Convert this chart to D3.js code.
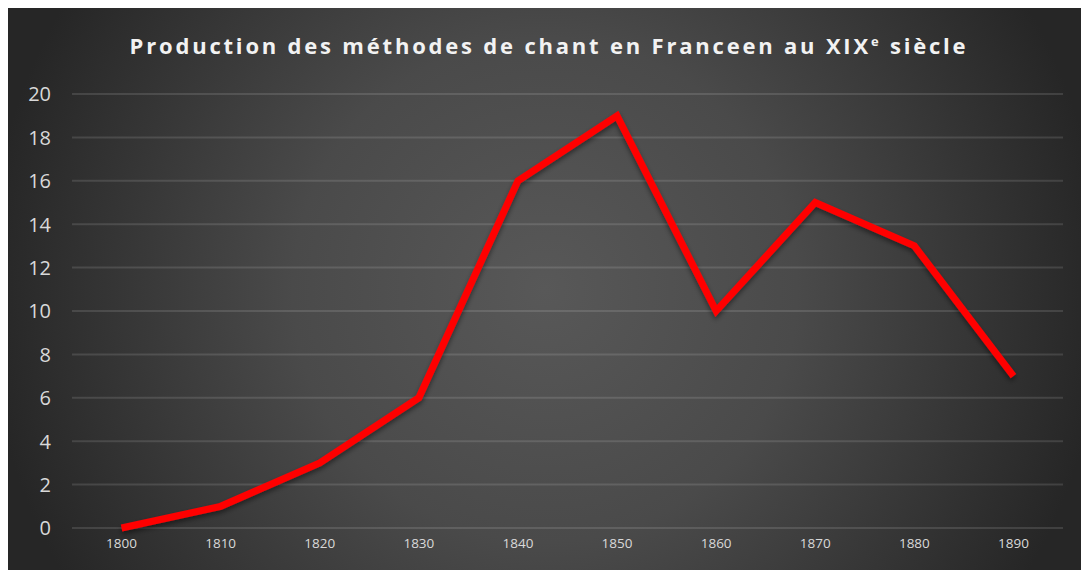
<!DOCTYPE html>
<html><head><meta charset="utf-8">
<script src="https://cdn.jsdelivr.net/npm/d3@7"></script>
<style>html,body{margin:0;padding:0;background:#fff;}svg{display:block;}</style>
</head><body>
<svg id="c" width="1081" height="570"></svg>
<script>
const categories = ["1800","1810","1820","1830","1840","1850","1860","1870","1880","1890"];
const values = [0, 1, 3, 6, 16, 19, 10, 15, 13, 7];
const yTicks = [0,2,4,6,8,10,12,14,16,18,20];
const title = "Production des méthodes de chant en Franceen au XIX";

const svg = d3.select("#c");
const W = 1081, H = 570;
const defs = svg.append("defs");
const rg = defs.append("radialGradient").attr("id","bg")
  .attr("gradientUnits","userSpaceOnUse").attr("cx",545).attr("cy",290).attr("r",560);
rg.append("stop").attr("offset","0").attr("stop-color","#585858");
rg.append("stop").attr("offset","0.45").attr("stop-color","#4a4a4a");
rg.append("stop").attr("offset","1").attr("stop-color","#262626");
const f = defs.append("filter").attr("id","sh").attr("x","-10%").attr("y","-10%").attr("width","120%").attr("height","130%");
f.append("feDropShadow").attr("dx",0).attr("dy",3).attr("stdDeviation",2.5).attr("flood-color","#000").attr("flood-opacity",0.45);

svg.append("rect").attr("x",8).attr("y",8).attr("width",W-8).attr("height",H-8).attr("fill","url(#bg)");

const x = d3.scaleBand().domain(categories).range([72,1063]);
const y = d3.scaleLinear().domain([0,20]).range([528,94]);

const grid = svg.append("g");
grid.selectAll("line").data(yTicks).enter().append("line")
  .attr("x1",72).attr("x2",1063)
  .attr("y1",d=>y(d)).attr("y2",d=>y(d))
  .attr("stroke","rgba(255,255,255,0.12)").attr("stroke-width",2);

const yAxis = d3.axisLeft(y).tickValues(yTicks).tickSize(0).tickPadding(0);
const gy = svg.append("g").attr("transform","translate(51,0)").call(yAxis);
gy.select(".domain").remove();
gy.selectAll("text").attr("fill","#d9d9d9").attr("font-family","'Open Sans', Lato, sans-serif")
  .attr("font-size","20px").attr("dy","0.34em");

const xAxis = d3.axisBottom(x).tickSize(0).tickPadding(0);
const gx = svg.append("g").attr("transform","translate(0,543)").call(xAxis);
gx.select(".domain").remove();
gx.selectAll("text").attr("fill","#d9d9d9").attr("font-family","'Open Sans', Lato, sans-serif")
  .attr("font-size","13.5px").attr("dy","0.4em");

const line = d3.line().x((d,i)=>x(categories[i])+x.bandwidth()/2).y(d=>y(d));
svg.append("path").datum(values).attr("d",line).attr("fill","none")
  .attr("stroke","#ff0000").attr("stroke-width",7).attr("stroke-linejoin","miter")
  .attr("filter","url(#sh)");

const t = svg.append("text").attr("x",549).attr("y",54).attr("text-anchor","middle")
  .attr("fill","#f2f2f2").attr("font-family","'Open Sans', Lato, sans-serif")
  .attr("font-weight","bold").attr("font-size","22px").attr("letter-spacing","2.8px");
t.append("tspan").text(title);
t.append("tspan").attr("font-size","13px").attr("dy","-8").text("e");
t.append("tspan").attr("dy","8").text(" siècle");
</script>
</body></html>
